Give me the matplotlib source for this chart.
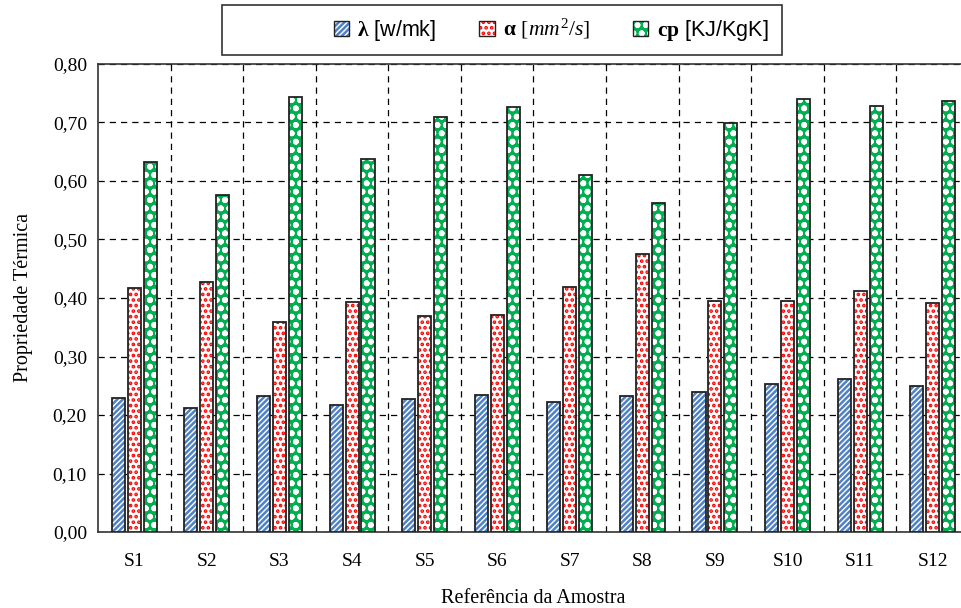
import numpy as np
import matplotlib.pyplot as plt
from matplotlib.patches import Rectangle, Patch
from matplotlib.ticker import FuncFormatter, MultipleLocator

samples = ['S1', 'S2', 'S3', 'S4', 'S5', 'S6', 'S7', 'S8', 'S9', 'S10', 'S11', 'S12']
lam = [0.229, 0.212, 0.232, 0.217, 0.227, 0.234, 0.222, 0.232, 0.239, 0.253, 0.262, 0.250]
alpha = [0.417, 0.427, 0.359, 0.393, 0.369, 0.371, 0.419, 0.475, 0.395, 0.395, 0.412, 0.391]
cp = [0.632, 0.576, 0.744, 0.638, 0.709, 0.726, 0.610, 0.562, 0.699, 0.740, 0.728, 0.737]

plt.rcParams['font.family'] = 'Liberation Serif'
plt.rcParams['mathtext.fontset'] = 'custom'
plt.rcParams['mathtext.rm'] = 'Liberation Serif'
plt.rcParams['mathtext.it'] = 'Liberation Serif:italic'
plt.rcParams['mathtext.bf'] = 'Liberation Serif:bold'
plt.rcParams['hatch.linewidth'] = 1.8


def main():
    fig = plt.figure(figsize=(9.61, 6.08), dpi=100)
    ax = fig.add_axes([98 / 961, 76 / 608, 871 / 961, 468 / 608])

    x = np.arange(len(samples))
    w = 0.18
    off = 0.22
    styles = [
        (lam, -off, 'white', '#4f81c7', '//////'),
        (alpha, 0, 'white', '#ff0000', '...'),
        (cp, off, '#00b050', 'white', 'oo'),
    ]
    for vals, dx, fc, hc, hatch in styles:
        ax.bar(x + dx, vals, w, color=fc, edgecolor=hc, hatch=hatch, linewidth=0, zorder=3)
        ax.bar(x + dx, vals, w, fill=False, edgecolor='#222222', linewidth=1.3, zorder=4)

    ax.set_xlim(-0.5, len(samples) - 0.5)
    ax.set_ylim(0, 0.8)
    ax.set_xticks(x)
    ax.set_xticklabels(samples)
    ax.set_xticks(np.arange(0.5, len(samples) - 0.5), minor=True)
    ax.yaxis.set_major_locator(MultipleLocator(0.1))
    ax.yaxis.set_major_formatter(FuncFormatter(lambda v, p: f'{v:.2f}'.replace('.', ',')))
    ax.tick_params(axis='both', which='both', length=0, labelsize=14)
    ax.tick_params(axis='x', pad=15)
    ax.tick_params(axis='y', pad=8)
    ax.grid(axis='y', which='major', color='black', linestyle=(0, (5, 4)), linewidth=0.9, zorder=0)
    ax.grid(axis='x', which='minor', color='black', linestyle=(0, (5, 4)), linewidth=0.9, zorder=0)
    ax.set_axisbelow(True)
    for s in ax.spines.values():
        s.set_color('#333333')
        s.set_linewidth(1.2)

    ax.set_ylabel('Propriedade Térmica', fontsize=14.5, labelpad=14)
    ax.set_xlabel('Referência da Amostra', fontsize=14.5, labelpad=14)

    # legend box
    fig.patches.append(Rectangle((222 / 961, 1 - 55 / 608), 560 / 961, 50 / 608,
                                 transform=fig.transFigure, fill=False,
                                 edgecolor='#333333', linewidth=1.2))
    outline = dict(fill=False, edgecolor='#222222', linewidth=1.0)
    handles = [
        (Patch(facecolor='white', edgecolor='#4f81c7', hatch='//////', linewidth=0), Patch(**outline)),
        (Patch(facecolor='white', edgecolor='#ff0000', hatch='...', linewidth=0), Patch(**outline)),
        (Patch(facecolor='#00b050', edgecolor='white', hatch='oo', linewidth=0), Patch(**outline)),
    ]
    labels = [r'$\mathbf{λ}$ [w/mk]', r'$\mathbf{α}$ $[mm^2/s]$', r'$\mathbf{cp}$ [KJ/KgK]']
    fig.legend(handles, labels, loc='center', bbox_to_anchor=(551 / 961, 1 - 30 / 608),
               ncol=3, frameon=False, handlelength=0.7, handleheight=0.7,
               handletextpad=0.4, columnspacing=2.0, prop={'family': 'Liberation Sans', 'size': 15.5})

    fig.savefig('out.png', dpi=100)


main()
